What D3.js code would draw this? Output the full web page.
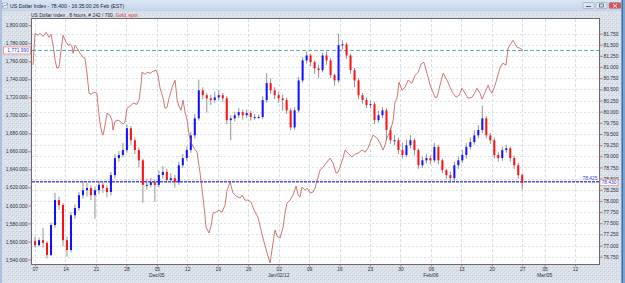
<!DOCTYPE html>
<html>
<head>
<meta charset="utf-8">
<script src="https://cdn.jsdelivr.net/npm/d3@7"></script>
<style>
  html, body { margin: 0; padding: 0; background: #dbe2ea; }
  svg { display: block; font-family: "Liberation Sans", Arial, sans-serif; }
</style>
</head>
<body>
<div id="chart"></div>
<script>
// USD index candles (each one = two 8h bars)
const usdOpenFirst = 77.10;
const usdClose = [
  77.01,77.12,77.06,76.79,77.46,78.02,77.91,77.12,76.90,77.68,
  77.84,78.13,78.24,78.29,78.13,78.24,78.36,78.29,78.20,78.58,
  78.96,79.03,79.14,79.63,79.36,79.14,78.91,78.36,78.36,78.42,
  78.36,78.58,78.65,78.47,78.51,78.42,78.80,78.96,79.14,79.47,
  79.85,80.48,80.37,80.30,80.26,80.32,80.37,80.30,79.81,79.85,
  79.92,79.99,79.92,79.97,79.88,79.88,79.88,80.26,80.64,80.48,
  80.37,80.30,80.26,80.03,79.65,80.03,80.70,81.15,81.26,81.11,
  80.97,80.93,81.26,81.15,80.82,80.70,81.49,81.51,81.26,80.93,
  80.70,80.37,80.26,80.15,80.17,79.81,79.92,80.03,79.59,79.36,
  79.36,79.14,79.03,79.25,79.36,79.14,78.80,78.91,78.96,78.91,
  79.21,78.91,78.69,78.58,78.51,78.80,78.91,79.03,79.21,79.32,
  79.47,79.59,79.85,79.47,79.36,79.03,78.96,79.14,79.18,78.96,
  78.80,78.58,78.40];
const usdHigh = [
  77.20,77.18,77.39,77.10,77.52,78.18,78.10,77.95,77.20,77.75,
  77.92,78.20,78.45,78.40,78.35,78.32,78.45,78.42,78.35,78.65,
  79.05,79.12,79.30,79.72,79.68,79.42,79.20,78.95,78.50,78.52,
  78.48,78.68,78.78,78.72,78.62,78.58,78.88,79.05,79.22,79.55,
  79.95,80.72,80.55,80.42,80.38,80.45,80.48,80.42,80.35,79.92,
  80.00,80.08,80.05,80.05,80.02,79.95,79.94,80.35,80.86,80.75,
  80.55,80.45,80.38,80.32,80.08,80.10,80.78,81.22,81.35,81.30,
  81.15,81.05,81.32,81.35,81.20,80.85,81.75,81.60,81.55,81.30,
  80.98,80.75,80.42,80.32,80.25,80.22,80.02,80.10,80.08,79.65,
  79.48,79.42,79.30,79.38,79.48,79.40,79.18,79.00,79.05,79.02,
  79.30,79.25,78.95,78.72,78.66,78.88,79.00,79.14,79.30,79.42,
  79.58,79.70,80.14,79.90,79.52,79.42,79.10,79.22,79.26,79.22,
  79.02,78.85,78.62];
const usdLow = [
  76.95,76.98,76.95,76.71,76.76,77.40,77.80,76.98,76.75,76.85,
  77.60,77.78,78.05,78.10,78.02,77.60,78.15,78.18,78.08,78.12,
  78.50,78.88,78.98,79.08,79.25,79.05,78.75,77.96,78.25,78.30,
  77.98,78.30,78.50,78.40,78.42,78.30,78.36,78.74,78.90,79.08,
  79.40,79.80,80.28,79.98,80.15,80.20,80.25,80.22,79.72,79.36,
  79.78,79.86,79.82,79.86,79.80,79.82,79.84,79.84,80.20,80.40,
  80.28,80.20,80.02,79.95,79.58,79.60,79.98,80.65,81.08,81.02,
  80.85,80.75,80.88,81.05,80.75,80.58,80.65,81.40,81.18,80.85,
  80.55,80.28,80.18,80.08,80.08,79.72,79.75,79.86,79.36,79.28,
  79.25,79.05,78.95,78.98,79.18,79.02,78.72,78.74,78.84,78.82,
  78.86,78.82,78.62,78.48,78.40,78.45,78.72,78.85,78.95,79.15,
  79.26,79.40,79.52,79.40,79.28,78.95,78.88,78.90,79.08,78.88,
  78.72,78.50,78.26];

// gold spot line: bar index (8h bars from Nov 07) and price
const goldBars = [-1.0,0,1.5,2.5,3.9,5.4,6.9,7.9,8.9,9.9,10.8,11.8,12.8,13.8,15.3,16.3,17.2,18.2,18.7,19.7,
  20.7,22.2,23.6,24.6,25.6,26.6,27.6,29.1,30.5,31.0,32.0,33.0,33.5,34.5,35.5,36.9,37.9,38.4,39.4,40.9,
  41.9,43.3,44.3,45.3,46.8,48.3,50.2,51.2,52.2,52.7,54.2,55.2,56.7,58.1,59.6,60.6,61.6,63.1,64.0,65.0,
  66.0,67.5,69.0,70.0,70.9,71.9,72.9,73.9,74.9,75.9,76.8,78.3,79.8,81.3,82.3,83.3,84.2,85.7,86.7,87.7,
  89.2,90.6,92.1,93.6,94.6,96.1,97.5,99.0,101.0,102.0,103.4,104.9,106.4,107.9,109.9,111.3,112.8,114.3,115.8,117.2,
  118.2,119.2,120.7,122.2,123.2,124.1,125.6,127.1,128.6,129.6,130.5,131.5,133.0,134.0,135.5,136.9,137.9,138.9,140.4,141.9,
  143.8,145.3,146.8,148.3,149.3,150.2,151.7,152.7,154.2,156.2,157.6,159.1,161.1,162.6,164.0,165.5,166.5,168.5,170.0,171.4,
  172.4,173.4,174.9,176.4,177.3,178.3,179.3,180.8,182.3,183.7,185.7,187.2,188.7,190.1,191.6,193.1,194.6,195.6,197.0,198.0,
  199.5,201.0,203.0,204.4,205.9,207.4,208.9,210.3,211.8,213.3,215.3,216.7,217.7,219.2,220.2,221.7,223.2,224.1,225.1,226.6,
  227.6,229.1,230.5,232.0,233.0,234.5,235.5,236.5,237.4,238.9,240.4];
const goldVals = [1755.6,1791.0,1788.8,1791.0,1787.7,1792.1,1786.6,1789.9,1777.7,1761.1,1752.2,1753.3,1772.2,1788.8,1781.1,1777.7,1778.8,1776.6,1768.9,1777.7,
  1774.4,1768.9,1764.4,1763.3,1746.7,1724.5,1723.4,1725.6,1724.5,1711.2,1691.3,1680.2,1678.0,1689.1,1702.4,1700.1,1694.6,1683.5,1693.5,1694.6,
  1693.5,1690.2,1692.4,1707.9,1710.1,1713.4,1712.3,1716.8,1733.4,1747.8,1745.6,1747.8,1746.7,1748.9,1750.0,1744.5,1730.1,1719.0,1707.9,1709.0,
  1719.0,1731.2,1738.9,1716.8,1710.1,1705.7,1716.8,1703.5,1694.6,1678.0,1670.2,1663.6,1659.1,1635.9,1617.0,1598.2,1576.0,1569.4,1577.1,1591.5,
  1592.6,1594.9,1592.6,1600.4,1617.0,1625.9,1613.7,1610.4,1608.2,1611.5,1605.9,1605.9,1603.7,1594.9,1586.0,1572.7,1559.4,1547.2,1536.1,1558.3,
  1572.7,1566.0,1563.8,1576.0,1592.6,1602.6,1605.9,1611.5,1621.5,1611.5,1609.3,1620.4,1617.0,1619.2,1613.7,1614.8,1619.2,1627.0,1639.2,1642.5,
  1648.1,1652.5,1647.0,1635.9,1637.0,1642.5,1652.5,1661.4,1658.0,1653.6,1656.9,1658.0,1661.4,1659.1,1663.6,1672.4,1678.0,1674.7,1669.1,1661.4,
  1666.9,1675.8,1681.3,1694.6,1714.6,1719.0,1736.7,1727.9,1731.2,1738.9,1735.6,1744.5,1747.8,1756.7,1758.9,1746.7,1733.4,1727.9,1720.1,1720.1,
  1733.4,1746.7,1738.9,1731.2,1724.5,1720.1,1722.3,1730.1,1724.5,1719.0,1720.1,1725.6,1730.1,1724.5,1717.9,1725.6,1733.4,1727.9,1724.5,1733.4,
  1741.2,1753.3,1757.8,1755.6,1774.4,1779.9,1783.3,1778.8,1775.5,1774.4,1772.2];

// axis ticks
const dayTicks = [0,15,30,45,60,75,90,105,120,135,150,165,180,195,210,225,240,251,266];
const dayLabels = ["07","14","21","28","05","12","19","26","02","09","16","23","30","06","13","20","27","05","12"];
const monthTicks = [60,120,195,251];
const monthLabels = ["Dec/05","Jan/02/12","Feb/06","Mar/05"];
const goldTicks = [1540,1560,1580,1600,1620,1640,1660,1680,1700,1720,1740,1760,1780,1800];
const usdTicks = [76.75,77,77.25,77.5,77.75,78,78.25,78.5,78.75,79,79.25,79.5,79.75,80,80.25,80.5,80.75,81,81.25,81.5,81.75];
const goldLevel = 1771.99;
const usdLevel = 78.43;
const usdLevelText = "78.425";
const usdLastText = "78.430";

const W = 625, H = 283;
const plot = { left: 32, right: 599, top: 19, bottom: 264 };

const svg = d3.select("#chart").append("svg")
  .attr("width", W).attr("height", H);

// window frame
const defs = svg.append("defs");
const tg = defs.append("linearGradient").attr("id", "titlebar").attr("x1", 0).attr("x2", 0).attr("y1", 0).attr("y2", 1);
tg.append("stop").attr("offset", "0%").attr("stop-color", "#d9e5f3");
tg.append("stop").attr("offset", "100%").attr("stop-color", "#c4d5e9");
const pat = defs.append("pattern").attr("id", "speckle").attr("width", 4).attr("height", 4).attr("patternUnits", "userSpaceOnUse");
pat.append("rect").attr("width", 4).attr("height", 4).attr("fill", "#d6dee7");
pat.append("rect").attr("x", 1).attr("y", 0).attr("width", 1).attr("height", 1).attr("fill", "#eef2f6");
pat.append("rect").attr("x", 3).attr("y", 2).attr("width", 1).attr("height", 1).attr("fill", "#eef2f6");
pat.append("rect").attr("x", 0).attr("y", 3).attr("width", 1).attr("height", 1).attr("fill", "#c8d1dc");

svg.append("rect").attr("width", W).attr("height", H).attr("fill", "url(#speckle)");
svg.append("rect").attr("width", W).attr("height", 11).attr("fill", "url(#titlebar)");
svg.append("rect").attr("x", 0).attr("y", 0).attr("width", 2).attr("height", H).attr("fill", "#a9c1dc");
svg.append("rect").attr("x", 621).attr("y", 0).attr("width", 4).attr("height", H).attr("fill", "#7ea3cc");
svg.append("rect").attr("x", 622).attr("y", 0).attr("width", 1).attr("height", H).attr("fill", "#3f6fa8");

// title bar content
svg.append("rect").attr("x", 2.5).attr("y", 3).attr("width", 5).attr("height", 5)
  .attr("fill", "#f4f4f4").attr("stroke", "#8090a0").attr("stroke-width", 0.5);
svg.append("path").attr("d", "M3,7 L4.5,5 L5.5,6 L7.5,3.5").attr("fill", "none").attr("stroke", "#3060c0").attr("stroke-width", 0.6);
svg.append("text").attr("x", 10).attr("y", 8).attr("font-size", 5.2).attr("fill", "#1e2530")
  .text("US Dollar Index - 78.400 - 16:35:00  26 Feb (EST)");

const btns = [{ x: 583, fill: "#dbe6f2" }, { x: 596, fill: "#dbe6f2" }, { x: 609, fill: "#d9534a" }];
btns.forEach((b, i) => {
  svg.append("rect").attr("x", b.x).attr("y", 2.5).attr("width", i === 2 ? 12 : 11).attr("height", 6)
    .attr("rx", 1).attr("fill", b.fill).attr("stroke", "#8399b3").attr("stroke-width", 0.5);
});
svg.append("line").attr("x1", 586).attr("x2", 591).attr("y1", 6.5).attr("y2", 6.5).attr("stroke", "#333").attr("stroke-width", 0.8);
svg.append("rect").attr("x", 599.5).attr("y", 4).attr("width", 4).attr("height", 3).attr("fill", "none").attr("stroke", "#333").attr("stroke-width", 0.6);
svg.append("path").attr("d", "M613,4 L617,7.5 M617,4 L613,7.5").attr("stroke", "#fff").attr("stroke-width", 0.9);

// subtitle
const sub = svg.append("text").attr("x", 31).attr("y", 16.5).attr("font-size", 4.9).attr("fill", "#1e2530");
sub.append("tspan").text("US Dollar Index , 8 hours, # 242 / 700, ");
sub.append("tspan").attr("fill", "#e03030").text("Gold, spot");

// scales
const x = d3.scaleLinear().domain([-1.5, 277.8]).range([plot.left, plot.right]);
const yUsd = d3.scaleLinear().domain([76.587, 82.077]).range([plot.bottom, plot.top]);
const yGold = d3.scaleLinear().domain([1535.0, 1806.9]).range([plot.bottom, plot.top]);

svg.append("rect").attr("x", plot.left).attr("y", plot.top)
  .attr("width", plot.right - plot.left).attr("height", plot.bottom - plot.top)
  .attr("fill", "#ffffff");

defs.append("clipPath").attr("id", "clip").append("rect")
  .attr("x", plot.left).attr("y", plot.top)
  .attr("width", plot.right - plot.left).attr("height", plot.bottom - plot.top);
const g = svg.append("g").attr("clip-path", "url(#clip)");

// grid
g.selectAll("line.vgrid").data(dayTicks).enter().append("line")
  .attr("class", "vgrid")
  .attr("x1", d => Math.round(x(d)) + 0.5).attr("x2", d => Math.round(x(d)) + 0.5)
  .attr("y1", plot.top).attr("y2", plot.bottom)
  .attr("stroke", "#cfd6de").attr("stroke-width", 0.8).attr("stroke-dasharray", "3,2");
g.selectAll("line.hgrid").data(usdTicks).enter().append("line")
  .attr("class", "hgrid")
  .attr("x1", plot.left).attr("x2", plot.right)
  .attr("y1", d => Math.round(yUsd(d)) + 0.5).attr("y2", d => Math.round(yUsd(d)) + 0.5)
  .attr("stroke", "#d3d9e0").attr("stroke-width", 0.8).attr("stroke-dasharray", "2,2");

// reference levels
g.append("line").attr("x1", plot.left).attr("x2", plot.right)
  .attr("y1", yGold(goldLevel)).attr("y2", yGold(goldLevel))
  .attr("stroke", "#3aa6b4").attr("stroke-width", 0.9).attr("stroke-dasharray", "4,2");
g.append("line").attr("x1", plot.left).attr("x2", plot.right)
  .attr("y1", yUsd(usdLevel)).attr("y2", yUsd(usdLevel))
  .attr("stroke", "#4a4af0").attr("stroke-width", 1.4).attr("stroke-dasharray", "3,1");

// candles
const candles = usdClose.map((c, i) => ({
  b: i * 240 / (usdClose.length - 1),
  o: i === 0 ? usdOpenFirst : usdClose[i - 1],
  c: c, h: usdHigh[i], l: usdLow[i]
}));
g.selectAll("line.wick").data(candles).enter().append("line")
  .attr("class", "wick")
  .attr("x1", d => x(d.b)).attr("x2", d => x(d.b))
  .attr("y1", d => yUsd(d.h)).attr("y2", d => yUsd(d.l))
  .attr("stroke", "#666666").attr("stroke-width", 0.7);
g.selectAll("rect.body").data(candles).enter().append("rect")
  .attr("class", "body")
  .attr("x", d => x(d.b) - 1).attr("width", 2)
  .attr("y", d => yUsd(Math.max(d.o, d.c)))
  .attr("height", d => Math.max(1, Math.abs(yUsd(d.o) - yUsd(d.c))))
  .attr("fill", d => d.c >= d.o ? "#1010ff" : "#ff1010");

// gold line
const goldPts = goldBars.map((b, i) => [b, goldVals[i]]);
g.append("path").datum(goldPts)
  .attr("fill", "none").attr("stroke", "#bf4a46").attr("stroke-width", 0.75)
  .attr("d", d3.line().x(d => x(d[0])).y(d => yGold(d[1])));

// plot border
svg.append("rect").attr("x", plot.left - 0.5).attr("y", plot.top - 0.5)
  .attr("width", plot.right - plot.left + 1).attr("height", plot.bottom - plot.top + 1)
  .attr("fill", "none").attr("stroke", "#6a6a6a").attr("stroke-width", 1);

// axes
const fmtGold = d3.format(",.3f");
const fmtUsd = d3.format(".3f");
const leftAxis = svg.append("g").attr("transform", `translate(${plot.left - 0.5},0)`)
  .call(d3.axisLeft(yGold).tickValues(goldTicks).tickFormat(fmtGold).tickSize(3).tickPadding(1));
const rightAxis = svg.append("g").attr("transform", `translate(${plot.right + 0.5},0)`)
  .call(d3.axisRight(yUsd).tickValues(usdTicks).tickFormat(fmtUsd).tickSize(3).tickPadding(1));
const bottomAxis = svg.append("g").attr("transform", `translate(0,${plot.bottom + 0.5})`)
  .call(d3.axisBottom(x).tickValues(dayTicks).tickFormat((d, i) => dayLabels[i]).tickSize(2).tickPadding(1.5));
[leftAxis, rightAxis, bottomAxis].forEach(a => {
  a.select(".domain").remove();
  a.selectAll(".tick line").attr("stroke", "#d24a4a").attr("stroke-width", 0.8);
  a.selectAll(".tick text").attr("font-size", 4.9).attr("fill", "#2a2f38")
    .attr("font-family", "'Liberation Sans', Arial, sans-serif");
});

svg.selectAll("text.month").data(monthTicks).enter().append("text")
  .attr("class", "month")
  .attr("x", d => x(d)).attr("y", 277)
  .attr("text-anchor", "middle").attr("font-size", 4.9).attr("fill", "#2a2f38")
  .text((d, i) => monthLabels[i]);

// level labels
const gy = yGold(goldLevel);
svg.append("rect").attr("x", 3.5).attr("y", gy - 3.5).attr("width", 27).attr("height", 7)
  .attr("fill", "#ffffff").attr("stroke", "#e07a7a").attr("stroke-width", 0.7);
svg.append("text").attr("x", 29).attr("y", gy + 1.8).attr("text-anchor", "end")
  .attr("font-size", 4.9).attr("fill", "#2f3fe0").text(fmtGold(goldLevel));

const uy = yUsd(usdLevel);
svg.append("text").attr("x", plot.right - 1.5).attr("y", uy - 2).attr("text-anchor", "end")
  .attr("font-size", 4.9).attr("fill", "#3a3ae8").text(usdLevelText);
svg.append("rect").attr("x", plot.right + 1).attr("y", uy - 2.5).attr("width", 18).attr("height", 6.5)
  .attr("fill", "#ffffff").attr("stroke", "#e07a7a").attr("stroke-width", 0.7);
svg.append("text").attr("x", plot.right + 2.5).attr("y", uy + 2.6)
  .attr("font-size", 4.9).attr("fill", "#2f3fe0").text(usdLastText);
</script>
</body>
</html>
